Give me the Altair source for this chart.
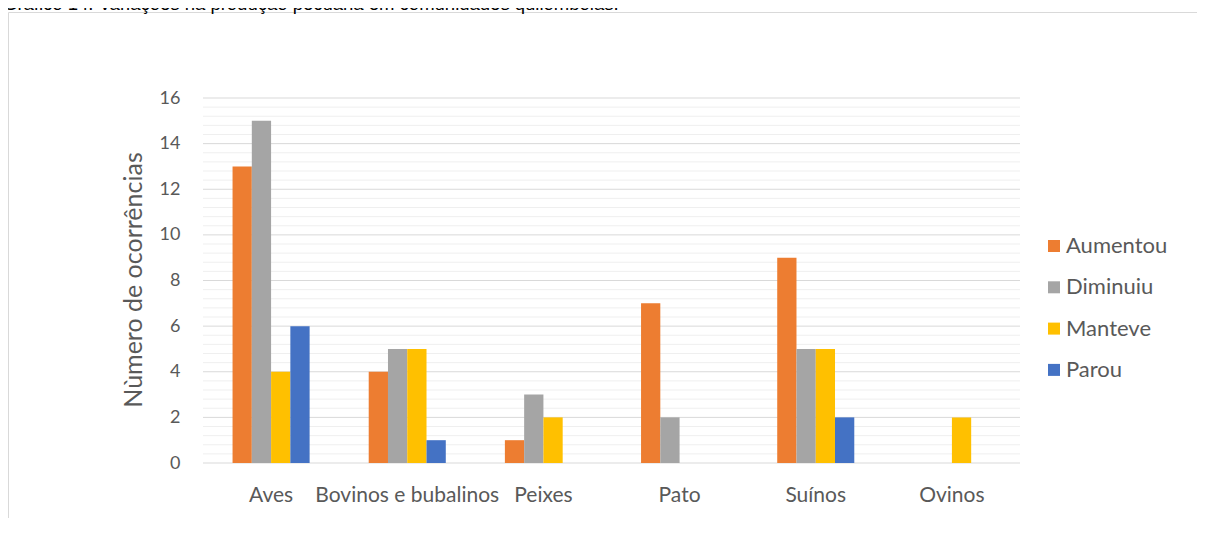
import altair as alt
import pandas as pd

categories = ["Aves", "Bovinos e bubalinos", "Peixes", "Pato", "Suínos", "Ovinos"]
series = ["Aumentou", "Diminuiu", "Manteve", "Parou"]
aumentou = [13, 4, 1, 7, 9, 0]
diminuiu = [15, 5, 3, 2, 5, 0]
manteve = [4, 5, 2, 0, 5, 2]
parou = [6, 1, 0, 0, 2, 0]
colors = ["#ED7D31", "#A5A5A5", "#FFC000", "#4472C4"]
major_ticks = [0, 2, 4, 6, 8, 10, 12, 14, 16]
minor_ticks = [0.4, 0.8, 1.2, 1.6, 2.4, 2.8, 3.2, 3.6, 4.4, 4.8, 5.2, 5.6,
               6.4, 6.8, 7.2, 7.6, 8.4, 8.8, 9.2, 9.6, 10.4, 10.8, 11.2, 11.6,
               12.4, 12.8, 13.2, 13.6, 14.4, 14.8, 15.2, 15.6]
y_title = "Nùmero de ocorrências"
caption = "Gráfico 14. Variações na produção pecuária em comunidades quilombolas."

rows = []
for s, vals in zip(series, [aumentou, diminuiu, manteve, parou]):
    for c, v in zip(categories, vals):
        rows.append({"cat": c, "series": s, "value": v})
df = pd.DataFrame(rows)

FONT = "Lato"
GREY = "#595959"
W, H = 817, 365
yscale = alt.Scale(domain=[0, 16], nice=False, zero=True)
yaxis = alt.Axis(title=y_title, values=major_ticks, grid=False, ticks=False,
                 domain=False, labelFont=FONT, labelFontSize=18,
                 labelColor=GREY, labelPadding=23, titleFont=FONT,
                 titleFontSize=25, titleFontWeight="normal", titleColor=GREY,
                 titleAngle=270, titleX=-70, titleY=H / 2 - 1,
                 titleAlign="center", titleBaseline="middle")

minor = alt.Chart(pd.DataFrame({"value": minor_ticks})).mark_rule(
    color="#efefef", strokeWidth=1
).encode(y=alt.Y("value:Q", scale=yscale, axis=yaxis))

major = alt.Chart(pd.DataFrame({"value": major_ticks})).mark_rule(
    color="#d9d9d9", strokeWidth=1
).encode(y=alt.Y("value:Q", scale=yscale, axis=yaxis))

bars = alt.Chart(df).mark_bar().encode(
    x=alt.X(
        "cat:N", sort=categories,
        scale=alt.Scale(paddingInner=0.434, paddingOuter=0.217),
        axis=alt.Axis(title=None, labelAngle=0, ticks=False, domain=False,
                      labelFont=FONT, labelFontSize=21, labelColor=GREY,
                      labelPadding=21, labelLimit=400, grid=False),
    ),
    xOffset=alt.XOffset("series:N", sort=series, scale=alt.Scale(domain=series)),
    y=alt.Y("value:Q", scale=yscale, axis=yaxis),
    color=alt.Color(
        "series:N", sort=series,
        scale=alt.Scale(domain=series, range=colors),
        legend=alt.Legend(title=None, orient="none", legendX=840, legendY=137,
                          symbolType="square", symbolSize=144,
                          symbolStrokeWidth=0, labelFont=FONT,
                          labelFontSize=22, labelColor=GREY, labelOffset=1,
                          rowPadding=19.3, labelLimit=300),
    ),
)

border = alt.Chart(pd.DataFrame({"a": [0]})).mark_rect(
    fill="transparent", stroke="#d9d9d9", strokeWidth=1
).encode(
    x=alt.value(-194.5), x2=alt.value(W + 200),
    y=alt.value(-85.5), y2=alt.value(H + 100),
)

cap = alt.Chart(pd.DataFrame({"t": [caption]})).mark_text(
    align="left", baseline="alphabetic", font="Liberation Sans",
    fontSize=18.5, color="#000000"
).encode(text="t:N", x=alt.value(-200), y=alt.value(-88.5))

chart = alt.layer(minor, major, bars, border, cap).properties(
    width=W, height=H,
    padding={"left": 195, "top": 90, "right": 177, "bottom": 55},
    autosize=alt.AutoSizeParams(type="none"),
).configure_view(stroke=None)

chart.save("out.html", embed_options={"renderer": "svg", "actions": False})
